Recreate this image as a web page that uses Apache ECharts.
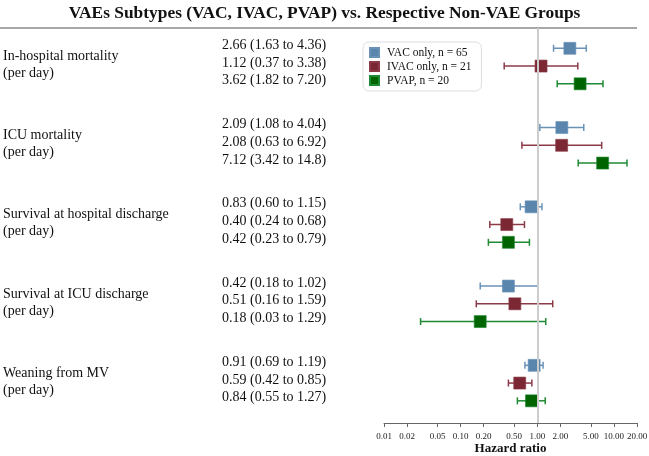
<!DOCTYPE html>
<html>
<head>
<meta charset="utf-8">
<script src="https://cdn.jsdelivr.net/npm/echarts@6/dist/echarts.min.js"></script>
<style>
html, body { margin: 0; padding: 0; background: #fff; }
#chart { width: 649px; height: 456px; }
</style>
</head>
<body>
<div id="chart"></div>
<script>
// outcomes (one block of three rows each)
var outcomes = ['In-hospital mortality', 'ICU mortality', 'Survival at hospital discharge',
    'Survival at ICU discharge', 'Weaning from MV'];
var subLabel = '(per day)';
var groupNames = ['VAC only, n = 65', 'IVAC only, n = 21', 'PVAP, n = 20'];

// hazard ratios and 95% CI
var hrVAC = [2.66, 2.09, 0.83, 0.42, 0.91];
var loVAC = [1.63, 1.08, 0.60, 0.18, 0.69];
var hiVAC = [4.36, 4.04, 1.15, 1.02, 1.19];

var hrIVAC = [1.12, 2.08, 0.40, 0.51, 0.59];
var loIVAC = [0.37, 0.63, 0.24, 0.16, 0.42];
var hiIVAC = [3.38, 6.92, 0.68, 1.59, 0.85];

var hrPVAP = [3.62, 7.12, 0.42, 0.18, 0.84];
var loPVAP = [1.82, 3.42, 0.23, 0.03, 0.55];
var hiPVAP = [7.20, 14.8, 0.79, 1.29, 1.27];

var tickValues = [0.01, 0.02, 0.05, 0.10, 0.20, 0.50, 1.00, 2.00, 5.00, 10.00, 20.00];

var groupColors = ['#5a86ad', '#7b2834', '#006400'];
var whiskerColors = ['#6a92b8', '#8c3a47', '#1f8a34'];

var hrs = [hrVAC, hrIVAC, hrPVAP];
var los = [loVAC, loIVAC, loPVAP];
var his = [hiVAC, hiIVAC, hiPVAP];

var GROUP_STEP = 4.465;
function rowY(o, r) { return o * GROUP_STEP + r; }
function lg(v) { return Math.log10(v); }
function fmt(v) { return v >= 10 ? v.toFixed(1) : v.toFixed(2); }

var font = "'Liberation Serif', 'Times New Roman', serif";
var series = [];

// reference line at HR = 1
series.push({
    type: 'line',
    data: [],
    silent: true,
    z: 1,
    markLine: {
        silent: true,
        symbol: ['none', 'none'],
        label: { show: false },
        lineStyle: { color: '#cccccc', width: 2, type: 'solid' },
        data: [{ xAxis: 0 }]
    }
});

for (var g = 0; g < 3; g++) {
    var wData = [], pData = [];
    for (var o = 0; o < outcomes.length; o++) {
        wData.push([lg(los[g][o]), lg(his[g][o]), rowY(o, g)]);
        pData.push([lg(hrs[g][o]), rowY(o, g)]);
    }
    // whiskers
    series.push({
        type: 'custom',
        silent: true,
        z: 2,
        data: wData,
        encode: { x: [0, 1], y: 2 },
        renderItem: (function (col) {
            return function (params, api) {
                var a = api.coord([api.value(0), api.value(2)]);
                var b = api.coord([api.value(1), api.value(2)]);
                var st = { stroke: col, lineWidth: 1.5 };
                return {
                    type: 'group',
                    children: [
                        { type: 'line', shape: { x1: a[0], y1: a[1], x2: b[0], y2: b[1] }, style: st },
                        { type: 'line', shape: { x1: a[0], y1: a[1] - 3.5, x2: a[0], y2: a[1] + 3.5 }, style: st },
                        { type: 'line', shape: { x1: b[0], y1: b[1] - 3.5, x2: b[0], y2: b[1] + 3.5 }, style: st }
                    ]
                };
            };
        })(whiskerColors[g])
    });
    // point estimates
    series.push({
        name: groupNames[g],
        type: 'scatter',
        symbol: 'rect',
        symbolSize: 12,
        z: 3,
        itemStyle: { color: groupColors[g], opacity: 1, borderColor: whiskerColors[g], borderWidth: 0.6 },
        data: pData
    });
}

// HR (CI) text column
var hrText = [];
for (var o2 = 0; o2 < outcomes.length; o2++) {
    for (var g2 = 0; g2 < 3; g2++) {
        hrText.push([0, rowY(o2, g2), fmt(hrs[g2][o2]) + ' (' + fmt(los[g2][o2]) + ' to ' + fmt(his[g2][o2]) + ')']);
    }
}
series.push({
    type: 'custom',
    silent: true,
    clip: false,
    data: hrText,
    renderItem: function (params, api) {
        var p = api.coord([0, api.value(1)]);
        return {
            type: 'text',
            style: {
                x: 222, y: p[1] - 3, text: hrText[params.dataIndex][2],
                fill: '#111', font: "14px " + font, verticalAlign: 'middle', align: 'left'
            }
        };
    }
});

// outcome labels
var outData = outcomes.map(function (name, i) { return [0, rowY(i, 0)]; });
series.push({
    type: 'custom',
    silent: true,
    clip: false,
    data: outData,
    renderItem: function (params, api) {
        var p = api.coord([0, api.value(1)]);
        var st = { fill: '#111', font: "14px " + font, verticalAlign: 'middle', align: 'left' };
        return {
            type: 'group',
            children: [
                { type: 'text', style: echarts.util.extend({ x: 3, y: p[1] + 8, text: outcomes[params.dataIndex] }, st) },
                { type: 'text', style: echarts.util.extend({ x: 3, y: p[1] + 25, text: subLabel }, st) }
            ]
        };
    }
});

var chart = echarts.init(document.getElementById('chart'));
chart.setOption({
    animation: false,
    title: {
        text: 'VAEs Subtypes (VAC, IVAC, PVAP) vs. Respective Non-VAE Groups',
        left: 'center',
        top: 0,
        textStyle: { fontFamily: font, fontWeight: 'bold', fontSize: 17.4, color: '#111' }
    },
    graphic: [{
        type: 'line',
        shape: { x1: 0, y1: 28, x2: 637, y2: 28 },
        style: { stroke: '#8a8a8a', lineWidth: 1.5 },
        silent: true
    }],
    legend: {
        data: groupNames,
        orient: 'vertical',
        left: 363,
        top: 42,
        icon: 'rect',
        itemWidth: 9,
        itemHeight: 9,
        itemGap: 1,
        padding: [4, 10, 4, 6],
        borderColor: '#dddddd',
        borderWidth: 1,
        borderRadius: 6,
        textStyle: { fontFamily: font, fontSize: 11.5, color: '#111', lineHeight: 13, padding: [0, 0, 0, 3] }
    },
    grid: { left: 384, right: 12, top: 28, bottom: 33, outerBoundsMode: 'none' },
    xAxis: {
        type: 'value',
        position: 'bottom',
        min: -2,
        max: lg(20),
        name: 'Hazard ratio',
        nameLocation: 'middle',
        nameGap: 19,
        nameMoveOverlap: false,
        nameTextStyle: { fontFamily: font, fontWeight: 'bold', fontSize: 13, color: '#111' },
        axisLine: { show: true, onZero: false, lineStyle: { color: '#666', width: 1 } },
        axisTick: { show: true, length: 4, customValues: tickValues.map(lg), lineStyle: { color: '#666' } },
        axisLabel: {
            customValues: tickValues.map(lg),
            margin: 9,
            fontFamily: font,
            fontSize: 9,
            color: '#222',
            formatter: function (v) { return Math.pow(10, v).toFixed(2); }
        },
        splitLine: { show: false }
    },
    yAxis: {
        type: 'value',
        inverse: true,
        min: -1.144,
        max: 21.11,
        show: false
    },
    series: series
});
</script>
</body>
</html>
